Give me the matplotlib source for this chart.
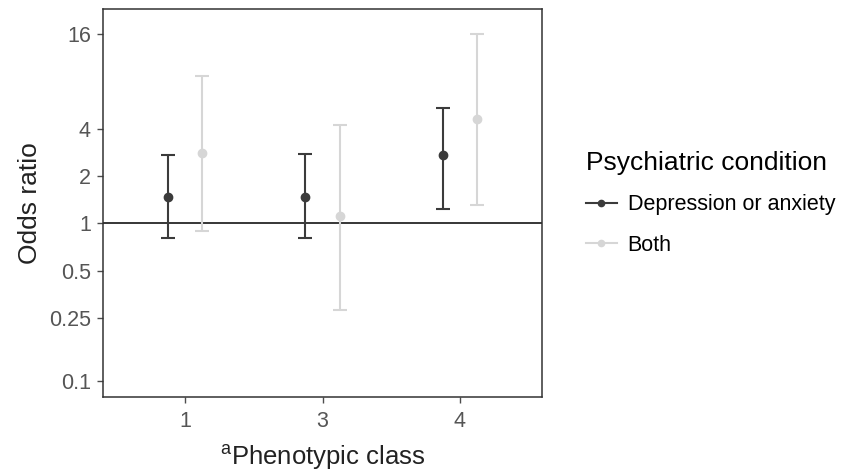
import matplotlib
matplotlib.use("Agg")
import matplotlib.pyplot as plt
from matplotlib.lines import Line2D
import numpy as np

plt.rcParams["font.family"] = ["Liberation Sans", "DejaVu Sans"]
plt.rcParams["mathtext.fontset"] = "custom"
plt.rcParams["mathtext.rm"] = "Liberation Sans"

# --- data (odds ratios with 95% CI) ---
classes = ["1", "3", "4"]
groups = ["Depression or anxiety", "Both"]
colors = ["#3b3b3b", "#d6d6d6"]
or_est = {"Depression or anxiety": [1.48, 1.48, 2.72],
          "Both": [2.79, 1.11, 4.61]}
ci_low = {"Depression or anxiety": [0.81, 0.81, 1.23],
          "Both": [0.90, 0.28, 1.30]}
ci_high = {"Depression or anxiety": [2.72, 2.77, 5.39],
           "Both": [8.70, 4.24, 16.0]}
yticks = [0.1, 0.25, 0.5, 1, 2, 4, 16]
ytick_labels = ["0.1", "0.25", "0.5", "1", "2", "4", "16"]

fig = plt.figure(figsize=(8.49, 4.73), dpi=100)
ax = fig.add_axes([0.121, 0.1613, 0.5178, 0.8197])

x = np.arange(len(classes))
dodge = [-0.125, 0.125]
for g, c, d in zip(groups, colors, dodge):
    est = np.array(or_est[g]); lo = np.array(ci_low[g]); hi = np.array(ci_high[g])
    ax.errorbar(x + d, est, yerr=[est - lo, hi - est], fmt="o", color=c,
                ms=6, lw=1.5, capsize=5.3, capthick=1.5, zorder=3)

ax.axhline(1, color="black", lw=1.1, zorder=2)
ax.set_yscale("log", base=2)
ax.set_ylim(0.079, 23.1)
ax.set_xlim(-0.6, len(classes) - 0.4)
ax.set_yticks(yticks)
ax.set_yticklabels(ytick_labels)
ax.minorticks_off()
ax.set_xticks(x)
ax.set_xticklabels(classes)
ax.tick_params(colors="#4d4d4d", labelsize=15.5, length=4.5, width=1,
               labelcolor="#555555", pad=4)
ax.tick_params(axis="x", pad=5.5)
for s in ax.spines.values():
    s.set_color("#333333"); s.set_linewidth(1.1)

ax.set_ylabel("Odds ratio", fontsize=19, color="#222222", labelpad=5)
ax.set_xlabel(r"$^{\mathrm{a}}$Phenotypic class", fontsize=18.5, color="#222222", labelpad=8)

handles = [Line2D([], [], color=c, marker="o", ms=4.5, lw=1.5) for c in colors]
leg = fig.legend(handles, groups, loc="upper left", bbox_to_anchor=(0.667, 0.722),
                 frameon=False, fontsize=15.5, title="Psychiatric condition",
                 title_fontsize=19, handlelength=1.45, labelspacing=0.9,
                 handletextpad=0.5)
leg._legend_box.align = "left"
leg._legend_box.sep = 14

fig.savefig("out.png", dpi=100)
